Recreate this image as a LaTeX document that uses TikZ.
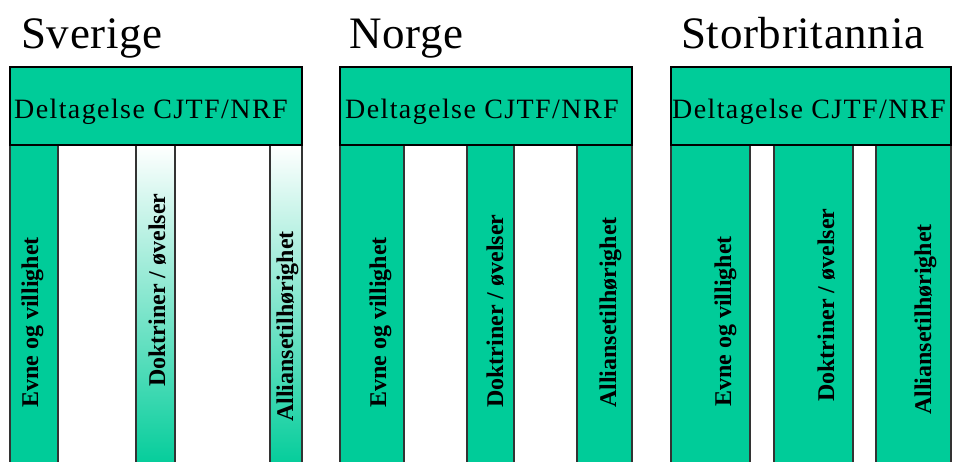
\documentclass[tikz,border=0pt]{standalone}
\usepackage{fontspec}
\setmainfont{Liberation Serif}
\definecolor{mint}{HTML}{00CC99}
\tikzset{
  hdrbox/.style={fill=mint, draw=black, line width=1.2pt},
  colbox/.style={fill=mint, draw=black!80, line width=1.2pt},
  fadebox/.style={top color=white, bottom color=mint, draw=black!80, line width=1.2pt},
  titletext/.style={anchor=base west, inner sep=0pt, font=\fontsize{45}{54}\selectfont\addfontfeature{LetterSpace=1.5}},
  hdrtext/.style={anchor=base west, inner sep=0pt, font=\fontsize{28}{34}\selectfont\addfontfeature{LetterSpace=5}},
  coltext/.style={anchor=base west, inner sep=0pt, rotate=90, font=\fontsize{24}{29}\selectfont\bfseries},
}
\begin{document}
\begin{tikzpicture}[x=1pt, y=-1pt]
\clip (0,0) rectangle (953,461);
\fill[white] (0,0) rectangle (953,461);

% ---- Sverige ----
\node[titletext] (t1) at (21,48) {Sverige};
\path[colbox]  (10,145) rectangle (58,470);
\path[fadebox] (136,145) rectangle (175,470);
\path[fadebox] (270,145) rectangle (302,470);
\path[hdrbox]  (10,67) rectangle (302,145);
\node[hdrtext] (h1) at (14,118) {Deltagelse CJTF/NRF};
\node[coltext] (a1) at (38,408) {Evne og villighet};
\node[coltext] (b1) at (165,387) {Doktriner / øvelser};
\node[coltext] (c1) at (293,422) {Alliansetilhørighet};

% ---- Norge ----
\node[titletext] (t2) at (349,48) {Norge};
\path[colbox] (340,145) rectangle (404,470);
\path[colbox] (467,145) rectangle (514,470);
\path[colbox] (577,145) rectangle (632,470);
\path[hdrbox] (340,67) rectangle (632,145);
\node[hdrtext] (h2) at (345,118) {Deltagelse CJTF/NRF};
\node[coltext] (a2) at (386,408) {Evne og villighet};
\node[coltext] (b2) at (503,408) {Doktriner / øvelser};
\node[coltext] (c2) at (616,408) {Alliansetilhørighet};

% ---- Storbritannia ----
\node[titletext] (t3) at (681,48) {Storbritannia};
\path[colbox] (671,145) rectangle (750,470);
\path[colbox] (774,145) rectangle (853,470);
\path[colbox] (876,145) rectangle (951,470);
\path[hdrbox] (671,67) rectangle (951,145);
\node[hdrtext] (h3) at (672,118) {Deltagelse CJTF/NRF};
\node[coltext] (a3) at (731,407) {Evne og villighet};
\node[coltext] (b3) at (834,402) {Doktriner / øvelser};
\node[coltext] (c3) at (931,415) {Alliansetilhørighet};
\end{tikzpicture}
\end{document}
